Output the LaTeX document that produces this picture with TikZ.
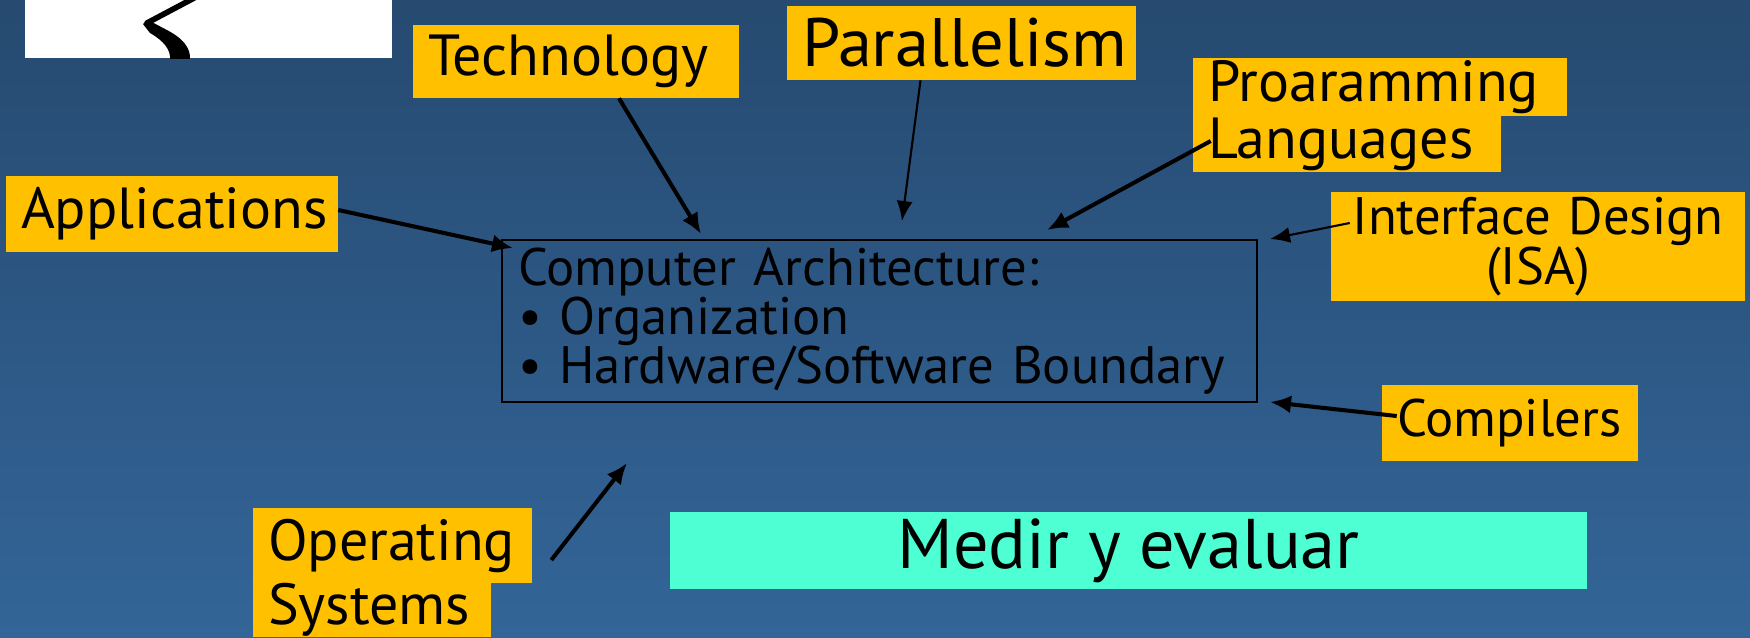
\documentclass[tikz,border=0pt]{standalone}
\usepackage{fontspec}
\setmainfont{PT Sans}
\usetikzlibrary{arrows.meta,positioning,calc}
\definecolor{slidetop}{RGB}{38,74,112}
\definecolor{slidebot}{RGB}{51,101,152}
\definecolor{tagyellow}{RGB}{255,192,0}
\definecolor{tagcyan}{RGB}{77,255,211}
\tikzset{
  tagbox/.style={fill=tagyellow, inner xsep=0.3cm, inner ysep=0pt, align=left, text=black, font=\fontsize{33}{28.5}\selectfont},
  archbox/.style={draw=black, line width=1.2pt, inner xsep=0.32cm, inner ysep=0pt, align=left, text=black, font=\fontsize{30}{27.9}\selectfont},
  evalbox/.style={fill=tagcyan, inner sep=0pt, align=center, text=black, font=\fontsize{40}{40}\selectfont},
  bigline/.style={-{Latex[length=4.2mm,width=3.6mm]}, line width=2.3pt},
  thinline/.style={-{Latex[length=4mm,width=3.2mm]}, line width=1.2pt}
}

\begin{document}
\begin{tikzpicture}[x=0.02cm, y=-0.02cm]
  % slide background
  \shade[top color=slidetop, bottom color=slidebot] (0,0) rectangle (1750,637);
  \useasboundingbox (0,0) rectangle (1750,637);
  % scrap of a logo, top left
  \fill[white] (25,0) rectangle (392,58);
  \begin{scope}
    \clip (25,0) rectangle (392,58);
    \draw[line width=3.2pt, line cap=round] (196,-3) -- (147,23);
    \fill (143,24) -- (148,20) -- (165,29) .. controls (183,38) and (191,48) .. (190,60)
      -- (170,60) .. controls (171,50) and (164,41) .. (150,33) -- cycle;
  \end{scope}

  \node[tagbox, text width=5.92cm, minimum height=1.46cm] (tech) at (576,61.5) {Technology};
  \node[tagbox, align=center, text width=6.38cm, minimum height=1.48cm, font=\fontsize{39}{40}\selectfont] (par) at (961.5,43) {Parallelism};
  \node[tagbox, text width=6.88cm, minimum height=1.16cm] (prog) at (1380,87) {Proaramming};
  \node[tagbox, text width=5.56cm, minimum height=1.12cm] (lang) at (1347,144) {Languages};
  \node[tagbox, text width=6.04cm, minimum height=1.52cm] (app) at (172,214) {Applications};
  \node[archbox, text width=14.46cm, minimum height=3.24cm] (arch) at (879.5,321)
    {Computer Architecture:\\ \textbullet\ Organization\\ \textbullet\ Hardware/Software Boundary};
  \node[tagbox, align=center, inner xsep=0pt, text width=8.28cm, minimum height=2.18cm, font=\fontsize{30}{26.7}\selectfont] (isa) at (1538,246.5) {Interface Design\\(ISA)};
  \node[tagbox, text width=4.52cm, minimum height=1.52cm, font=\fontsize{30}{28}\selectfont] (comp) at (1510,423) {Compilers};
  \node[tagbox, text width=4.98cm, minimum height=1.5cm] (opsys) at (392.5,545.5) {Operating};
  \node[tagbox, text width=4.16cm, minimum height=1.08cm] (sys) at (372,610) {Systems};
  \node[evalbox, minimum width=18.34cm, minimum height=1.54cm] (eval) at (1128.5,550.5) {Medir y evaluar};

  % arrow tips, off the box
  \coordinate (tipTech) at (701,234);
  \coordinate (tipPar) at (902,221);
  \coordinate (tipLang) at (1047,230);
  \coordinate (tipApp) at (513,248);
  \coordinate (tipIsa) at (1270,239);
  \coordinate (tipComp) at (1270,402);
  \coordinate (tipOs) at (627,463);

  \draw[bigline] ([xshift=0.86cm]tech.south) -- (tipTech);
  \draw[thinline] ([xshift=-0.82cm]par.south) -- (tipPar);
  \draw[bigline] ([xshift=0.36cm,yshift=0.06cm]lang.west) -- (tipLang);
  \draw[bigline] ([yshift=0.08cm]app.east) -- (tipApp);
  \draw[thinline] ([xshift=0.38cm,yshift=0.47cm]isa.west) -- (tipIsa);
  \draw[bigline] ([xshift=0.3cm,yshift=0.14cm]comp.west) -- (tipComp);
  \draw[bigline] ([xshift=0.38cm,yshift=-0.29cm]opsys.east) -- (tipOs);
\end{tikzpicture}
\end{document}
